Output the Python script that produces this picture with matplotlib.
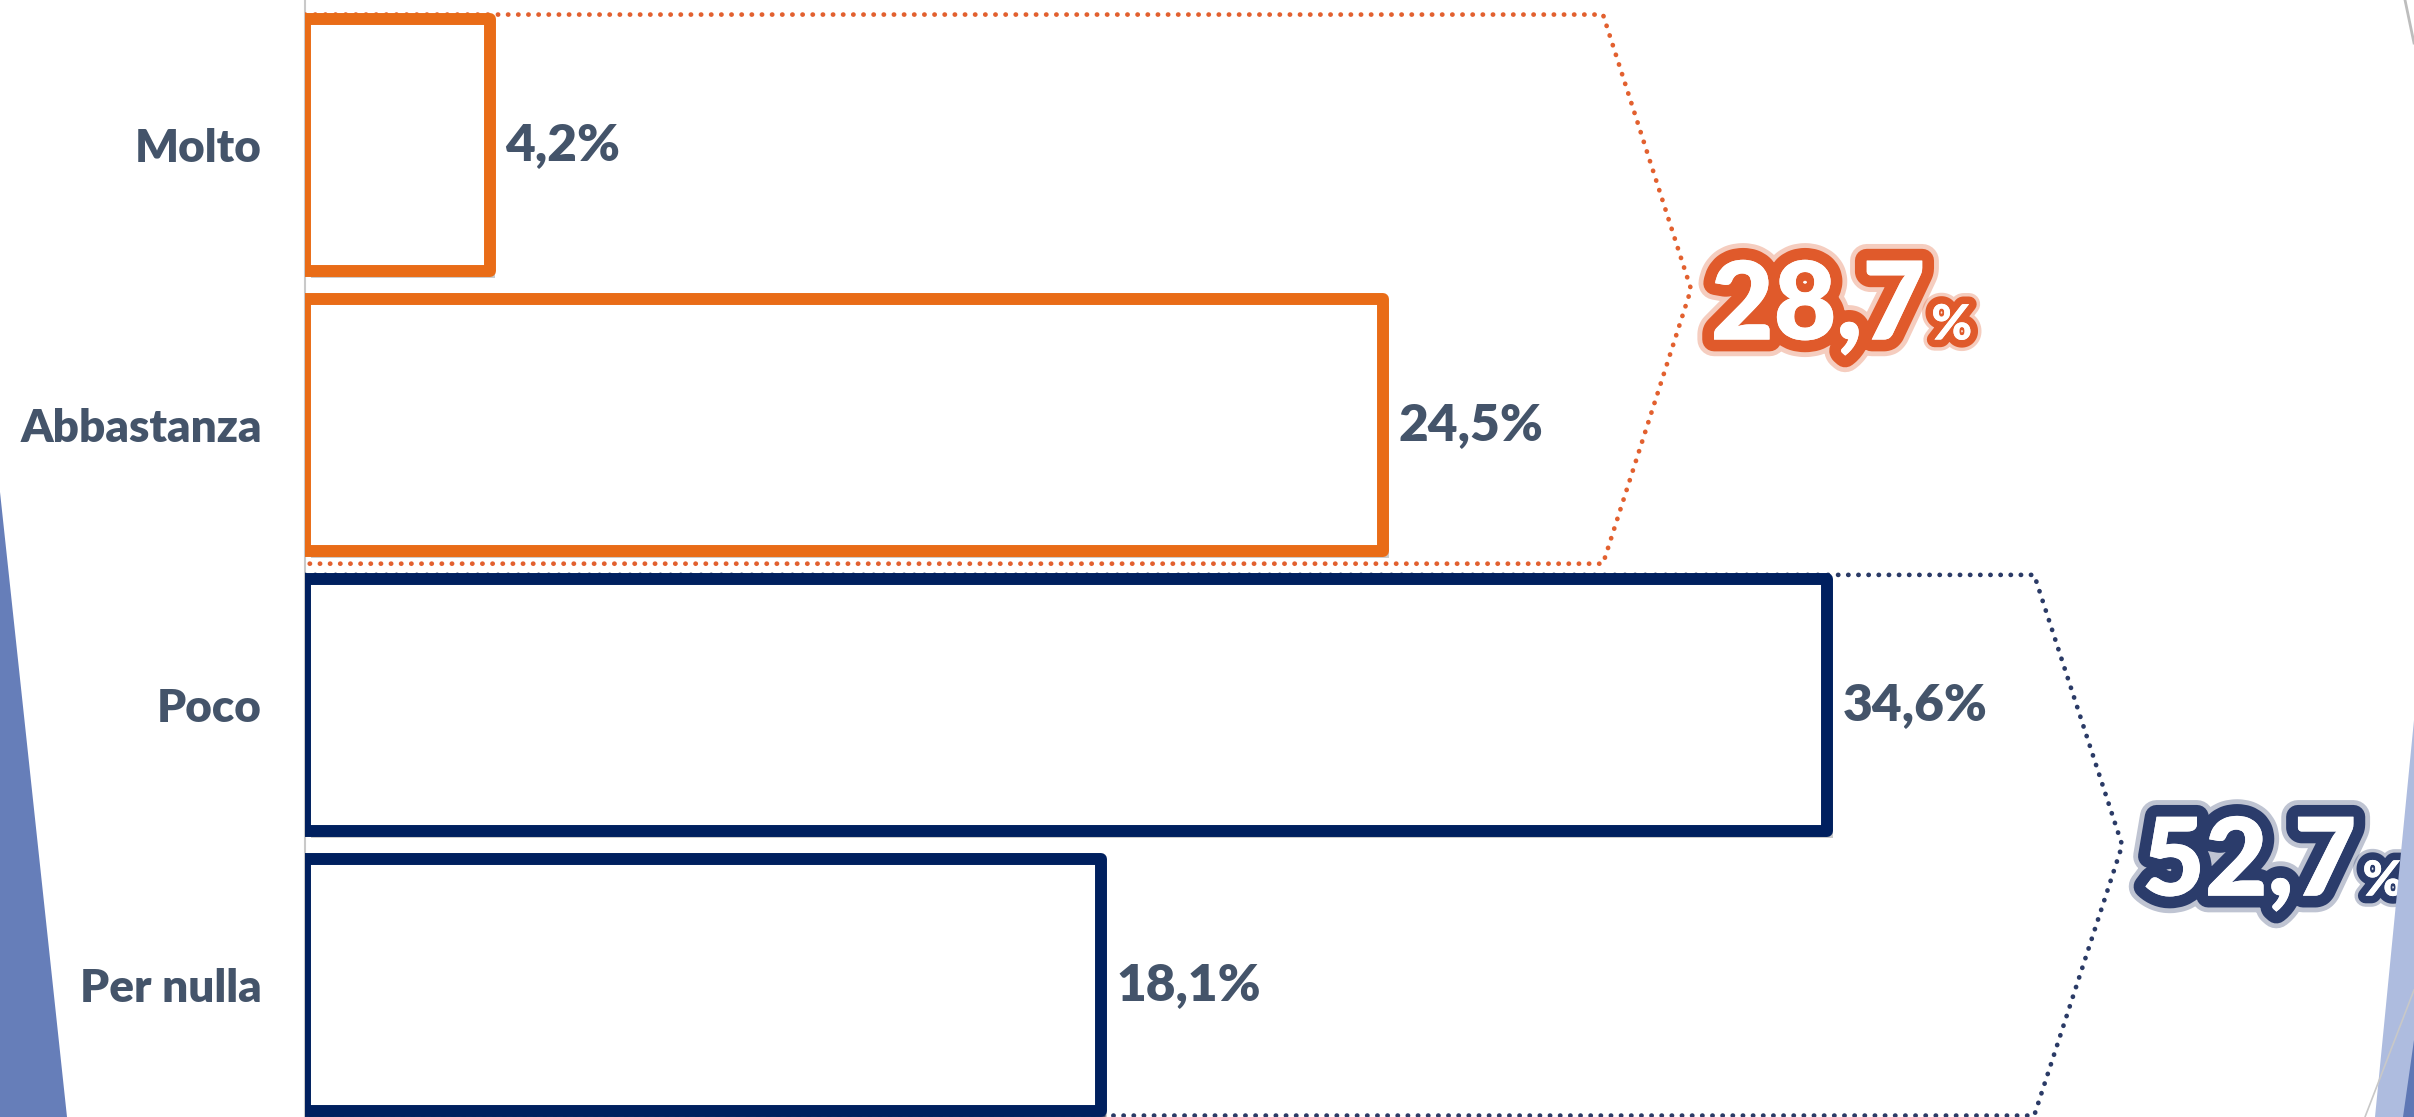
import matplotlib
matplotlib.use("Agg")
import matplotlib.pyplot as plt
import matplotlib.patheffects as pe
from matplotlib.patches import Polygon

# ---------------- data ----------------
categories = ["Molto", "Abbastanza", "Poco", "Per nulla"]
values = [4.2, 24.5, 34.6, 18.1]
bar_groups = [0, 0, 1, 1]           # group index per bar
groups = [[0, 1], [2, 3]]           # bars included in each bracket

# ---------------- style ----------------
ORANGE = "#E96C17"
NAVY = "#00205F"
DOT_ORANGE = "#E2602F"
DOT_NAVY = "#2A3A66"
GLOW = ["#E05A2B", "#2B3C6B"]
TEXT = "#44546A"
group_colors = [ORANGE, NAVY]
dot_colors = [DOT_ORANGE, DOT_NAVY]
bracket_start = [29.5, 39.3]        # x where the dotted bracket starts to bend
bracket_depth = 2.0
bracket_edges = [(-0.465, 1.495), (1.535, 3.465)]

FONT = "Lato"


def fmt(v):
    return f"{v:.1f}".replace(".", ",")


W, H = 2414, 1117
fig = plt.figure(figsize=(W / 100, H / 100), dpi=100)
fig.patch.set_facecolor("white")

# decorative template shapes (figure coordinates)
fig.patches.append(Polygon([(0, 1 - 492 / H), (67 / W, 0), (0, 0)], closed=True,
                           transform=fig.transFigure, facecolor="#667EB9",
                           edgecolor="none", zorder=0))
fig.patches.append(Polygon([(1, 1 - 720 / H), (2375 / W, 0), (1, 0)], closed=True,
                           transform=fig.transFigure, facecolor="#AEBCDF",
                           edgecolor="none", zorder=0))
fig.patches.append(Polygon([(1, 1 - 1040 / H), (2403 / W, 0), (1, 0)], closed=True,
                           transform=fig.transFigure, facecolor="#5E77B5",
                           edgecolor="none", zorder=0))
fig.lines.append(plt.Line2D([2365 / W, 1], [0, 1 - 990 / H], transform=fig.transFigure,
                            color="#C8C8C8", lw=1.2))
fig.lines.append(plt.Line2D([2405 / W, 1], [1, 1 - 43 / H], transform=fig.transFigure,
                            color="#BDBDBD", lw=2))

left = 305 / W
ax = fig.add_axes([left, 0, 1 - left, 1])
ax.set_facecolor("none")
ax.set_xlim(0, (W - 305) / 44.0)
ax.set_ylim(3.47, -0.517)

y = list(range(len(categories)))
shadow = [pe.SimplePatchShadow(offset=(4, -5), shadow_rgbFace="#7F7F7F", alpha=0.4),
          pe.Normal()]
bars = ax.barh(y, values, height=0.9, color="white",
               edgecolor=[group_colors[g] for g in bar_groups],
               linewidth=8.6, zorder=3)
for b in bars:
    b.set_joinstyle("round")
    b.set_path_effects(shadow)

# value labels
for yi, v in zip(y, values):
    ax.text(v + 0.35, yi, fmt(v) + "%", ha="left", va="center",
            fontsize=37, fontweight="heavy", color=TEXT, family=FONT, zorder=4)

# dotted brackets and group totals
for gi, members in enumerate(groups):
    top, bot = bracket_edges[gi]
    x0 = bracket_start[gi]
    tip_y = (top + bot) / 2
    xs = [0, x0, x0 + bracket_depth, x0, 0]
    ys = [top, top, tip_y, bot, bot]
    ax.plot(xs, ys, color=dot_colors[gi], lw=3.4, linestyle=(0, (0.05, 2.1)),
            dash_capstyle="round", solid_capstyle="round", zorder=2)
    total = sum(values[i] for i in members)
    effects = [pe.withStroke(linewidth=24, foreground=GLOW[gi], alpha=0.3),
               pe.withStroke(linewidth=17, foreground=GLOW[gi]),
               pe.Normal()]
    t = ax.text(x0 + bracket_depth + 0.45, tip_y + 0.18, fmt(total), ha="left",
                va="baseline", fontsize=78, fontweight="heavy", color="white",
                family=FONT, zorder=5, path_effects=effects)
    ax.annotate("%", xy=(1, tip_y + 0.18), xycoords=(t, "data"),
                xytext=(6, 0), textcoords="offset pixels",
                ha="left", va="baseline", fontsize=35, fontweight="heavy",
                color="white", family=FONT, zorder=5,
                path_effects=[pe.withStroke(linewidth=16, foreground=GLOW[gi], alpha=0.3),
                              pe.withStroke(linewidth=11, foreground=GLOW[gi]),
                              pe.Normal()])

ax.set_yticks(y)
ax.set_yticklabels(categories, fontsize=33, fontweight="heavy", color=TEXT, family=FONT)
ax.tick_params(axis="y", length=0, pad=31)
ax.set_xticks([])
for s in ["top", "right", "bottom"]:
    ax.spines[s].set_visible(False)
ax.spines["left"].set_color("#C9C9C9")
ax.spines["left"].set_linewidth(1.5)
ax.spines["left"].set_zorder(1)

fig.savefig("out.png", dpi=100, facecolor="white")
